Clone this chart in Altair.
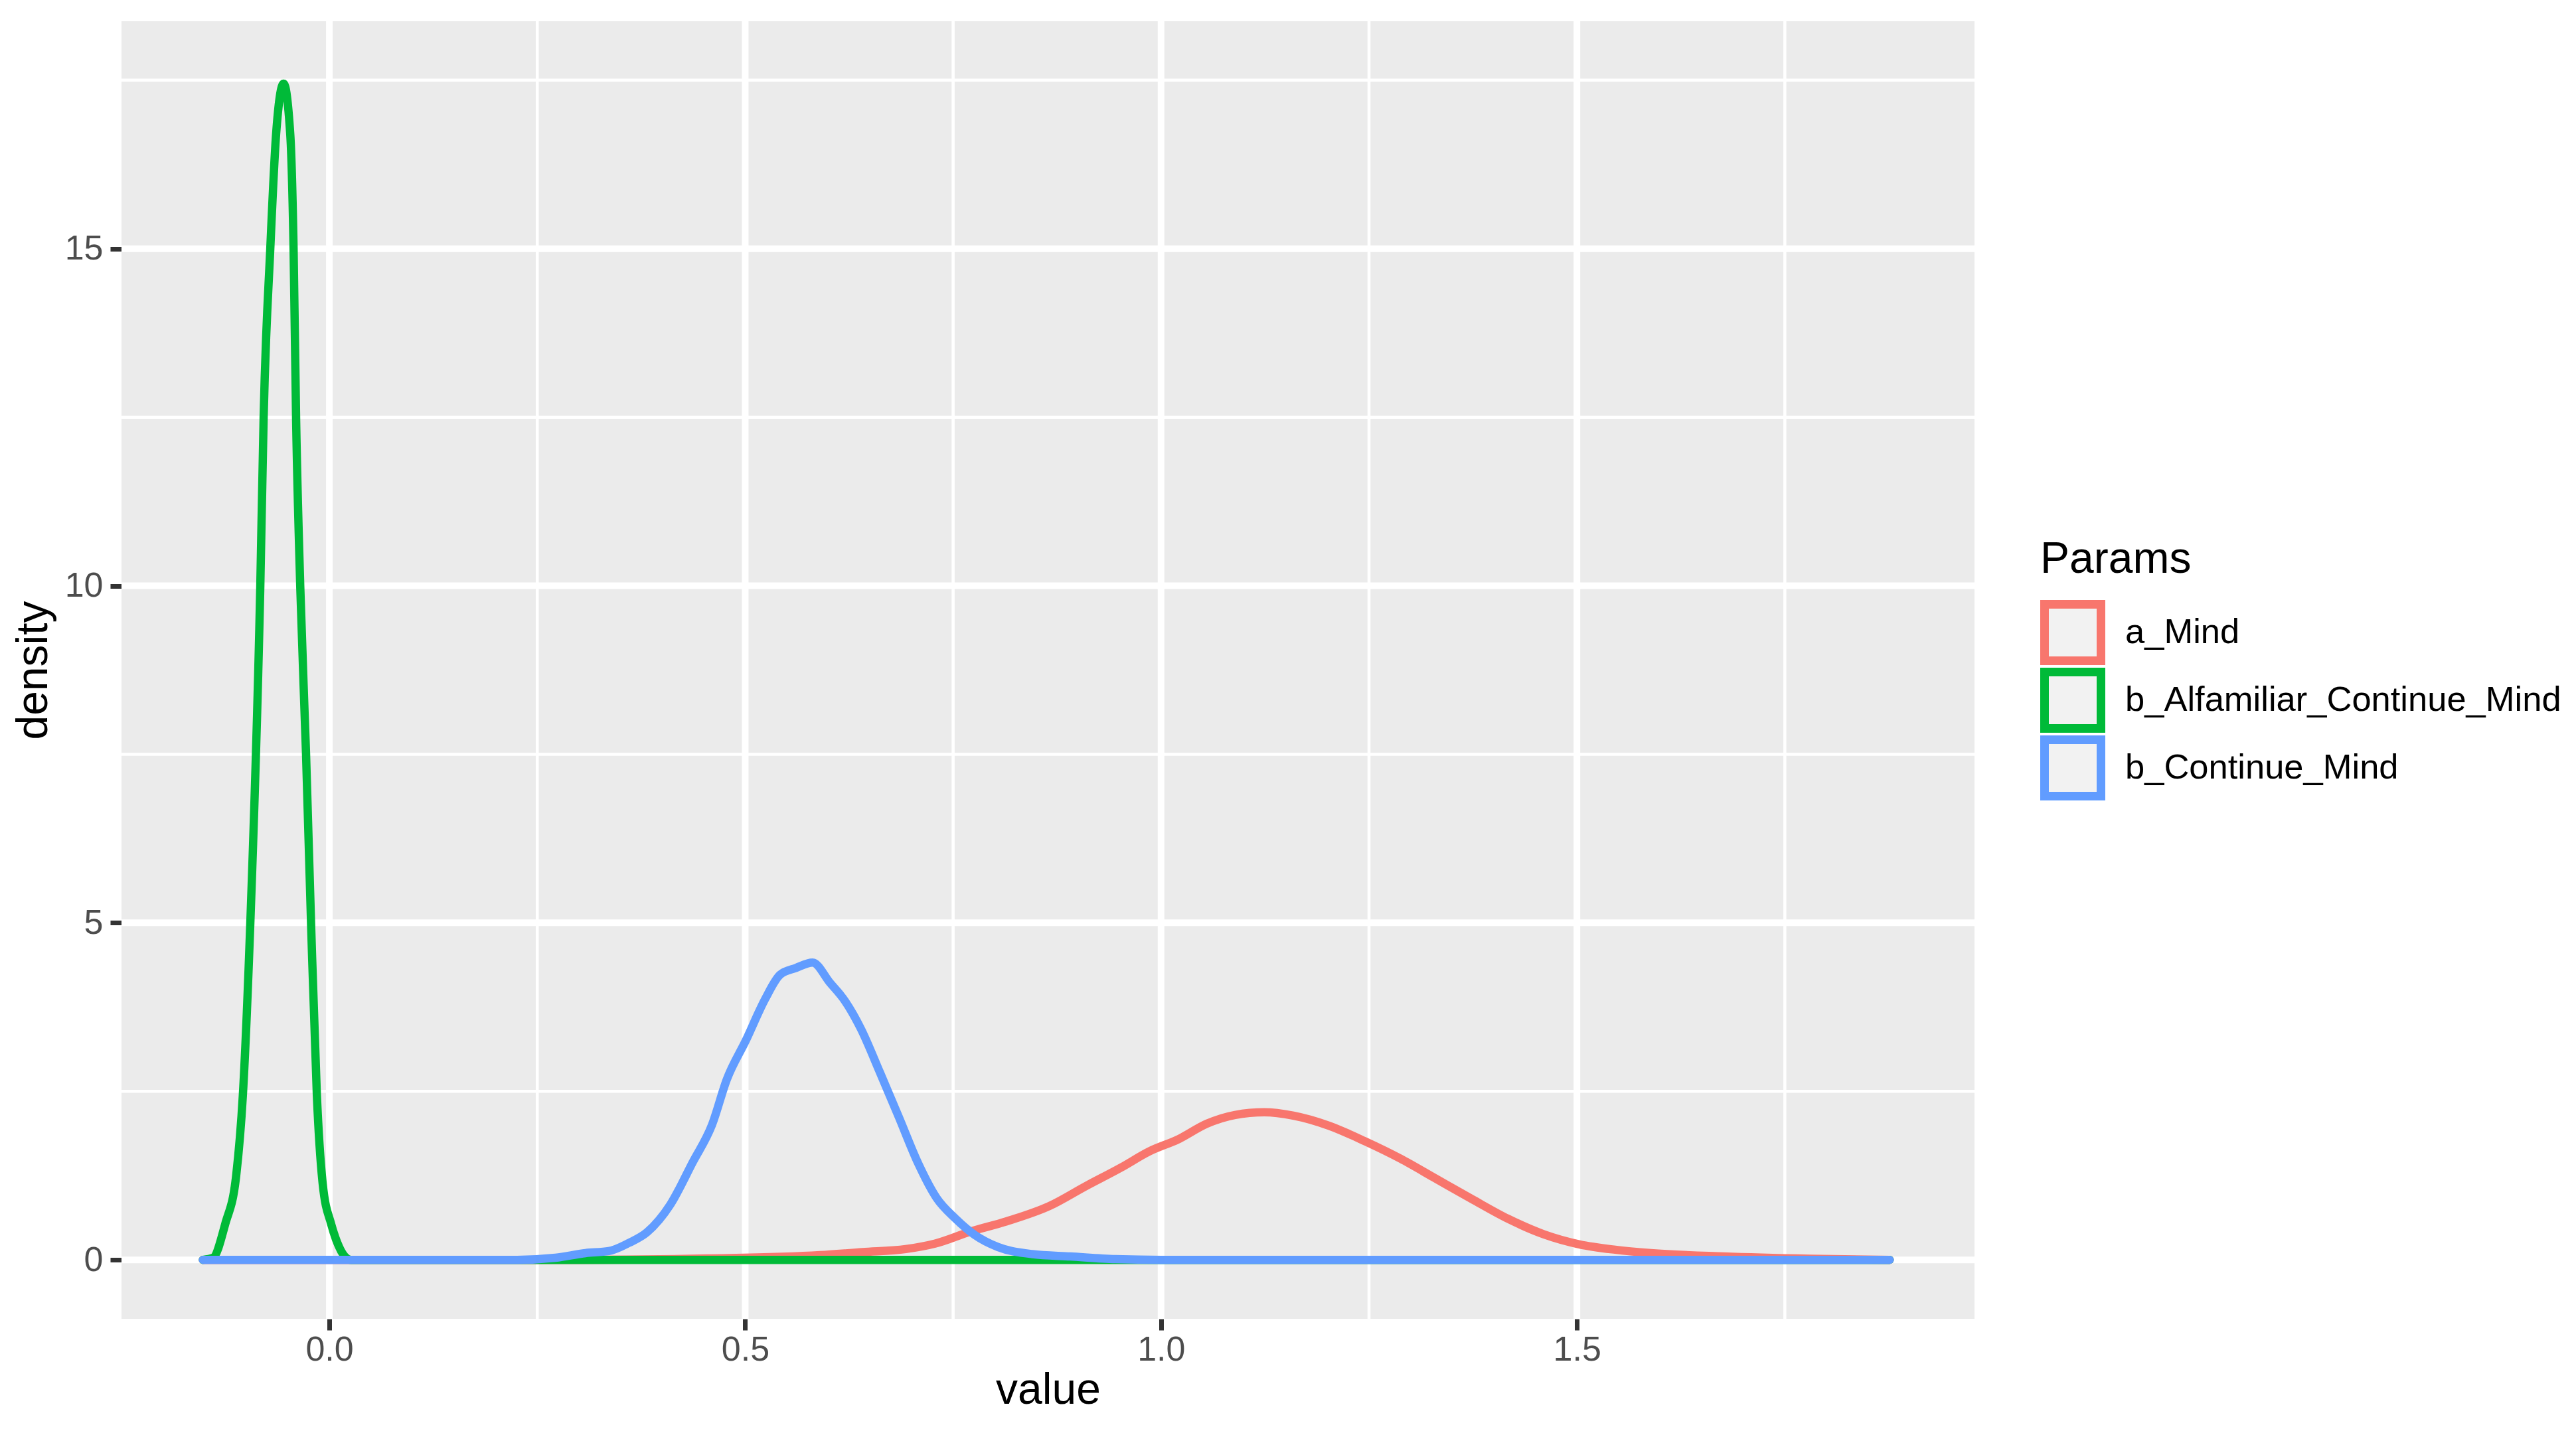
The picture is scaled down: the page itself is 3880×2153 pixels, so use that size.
import altair as alt
import pandas as pd

# ---- data ----
params = ["a_Mind", "b_Alfamiliar_Continue_Mind", "b_Continue_Mind"]
colors = ["#F8766D", "#00BA38", "#619CFF"]

a_x = [-0.152, 0.30, 0.455, 0.59, 0.641, 0.693, 0.728, 0.771, 0.814, 0.866, 0.909,
       0.952, 0.986, 1.021, 1.055, 1.089, 1.124, 1.159, 1.202, 1.245, 1.288, 1.331,
       1.374, 1.417, 1.460, 1.503, 1.546, 1.589, 1.676, 1.780, 1.876]
a_y = [0, 0, 0.02, 0.07, 0.115, 0.16, 0.24, 0.42, 0.57, 0.80, 1.09,
       1.37, 1.61, 1.79, 2.02, 2.15, 2.19, 2.14, 1.99, 1.76, 1.50, 1.20,
       0.90, 0.61, 0.38, 0.23, 0.15, 0.10, 0.05, 0.016, 0]

g_x = [-0.152, -0.140, -0.125, -0.112, -0.104, -0.095, -0.083, -0.079, -0.071,
       -0.064, -0.055, -0.047, -0.043, -0.040, -0.035, -0.028, -0.022, -0.015,
       -0.008, 0.002, 0.026, 1.876]
g_y = [0, 0.03, 0.54, 1.25, 2.44, 5.0, 10.0, 12.5, 15.0,
       16.7, 17.45, 16.7, 15.0, 12.5, 10.0, 7.5, 5.0, 2.44,
       1.13, 0.54, 0, 0]

b_x = [-0.152, 0.226, 0.272, 0.308, 0.336, 0.360, 0.382, 0.410, 0.437, 0.460,
       0.478, 0.501, 0.524, 0.542, 0.561, 0.581, 0.602, 0.620, 0.639, 0.662,
       0.685, 0.708, 0.730, 0.753, 0.776, 0.804, 0.845, 0.891, 0.945, 1.0, 1.876]
b_y = [0, 0, 0.03, 0.10, 0.13, 0.25, 0.41, 0.82, 1.45, 2.0,
       2.68, 3.26, 3.87, 4.23, 4.33, 4.41, 4.11, 3.84, 3.43, 2.78,
       2.11, 1.43, 0.92, 0.61, 0.37, 0.19, 0.085, 0.05, 0.01, 0, 0]

x_major = [0.0, 0.5, 1.0, 1.5]
x_minor = [0.25, 0.75, 1.25, 1.75]
y_major = [0, 5, 10, 15]
y_minor = [2.5, 7.5, 12.5, 17.5]

rows = []
for name, xs, ys in [(params[0], a_x, a_y), (params[1], g_x, g_y), (params[2], b_x, b_y)]:
    for i, (xv, yv) in enumerate(zip(xs, ys)):
        rows.append({"Params": name, "value": xv, "density": yv, "idx": i})
df = pd.DataFrame(rows)

FONT = "Liberation Sans"
x_scale = alt.Scale(domain=[-0.2499, 1.978], nice=False, zero=False)
y_scale = alt.Scale(domain=[-0.875, 18.375], nice=False, zero=False)

x_axis = alt.Axis(values=x_major, format=".1f", grid=False, domain=False,
                  tickColor="#333333", tickWidth=7, tickSize=17,
                  labelFont=FONT, labelFontSize=52, labelColor="#4D4D4D", labelPadding=4,
                  titleFont=FONT, titleFontSize=66, titleFontWeight="normal",
                  titleColor="black", titlePadding=3)
y_axis = alt.Axis(values=y_major, format="d", grid=False, domain=False,
                  tickColor="#333333", tickWidth=7, tickSize=17,
                  labelFont=FONT, labelFontSize=52, labelColor="#4D4D4D", labelPadding=11,
                  titleFont=FONT, titleFontSize=66, titleFontWeight="normal",
                  titleColor="black", titlePadding=13)

def xenc(field):
    return alt.X(field, scale=x_scale, title="value", axis=x_axis)

def yenc(field):
    return alt.Y(field, scale=y_scale, title="density", axis=y_axis)

vx_minor = alt.Chart(pd.DataFrame({"value": x_minor})).mark_rule(color="white", strokeWidth=4.5).encode(
    x=xenc("value:Q"))
hy_minor = alt.Chart(pd.DataFrame({"density": y_minor})).mark_rule(color="white", strokeWidth=4.5).encode(
    y=yenc("density:Q"))
vx_major = alt.Chart(pd.DataFrame({"value": x_major})).mark_rule(color="white", strokeWidth=10).encode(
    x=xenc("value:Q"))
hy_major = alt.Chart(pd.DataFrame({"density": y_major})).mark_rule(color="white", strokeWidth=10).encode(
    y=yenc("density:Q"))

lines = alt.Chart(df).mark_line(strokeWidth=12.5, strokeCap="round", strokeJoin="round",
                                interpolate="monotone").encode(
    x=xenc("value:Q"),
    y=yenc("density:Q"),
    color=alt.Color("Params:N", scale=alt.Scale(domain=params, range=colors),
                    legend=alt.Legend(title="Params", orient="none", legendX=2890, legendY=779,
                                      padding=0, symbolType="square", symbolSize=7225,
                                      symbolStrokeWidth=13, symbolFillColor="#F2F2F2",
                                      labelFont=FONT, labelFontSize=52.5, labelColor="black",
                                      labelOffset=30, rowPadding=4, clipHeight=98,
                                      labelLimit=0, titleLimit=0,
                                      titleFont=FONT, titleFontSize=66, titleFontWeight="normal",
                                      titleColor="black", titlePadding=27)),
    order=alt.Order("idx:Q"),
)

chart = alt.layer(vx_minor, hy_minor, vx_major, hy_major, lines).properties(
    width=2791, height=1955,
    padding={"left": 175, "top": 24, "right": 898, "bottom": 150},
    autosize=alt.AutoSizeParams(type="none"),
).configure_view(fill="#EBEBEB", strokeWidth=0)

chart.save("out.html", embed_options={"renderer": "svg", "actions": False})
